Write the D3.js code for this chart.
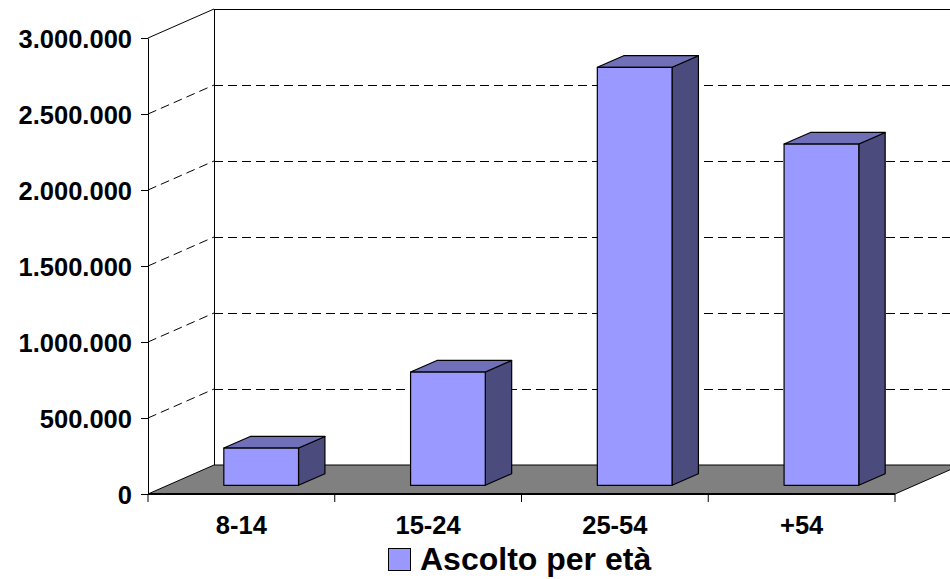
<!DOCTYPE html>
<html>
<head>
<meta charset="utf-8">
<script src="https://cdn.jsdelivr.net/npm/d3@7"></script>
<style>
  body { margin: 0; background: #fff; }
  text { font-family: "Liberation Sans", Arial, sans-serif; font-weight: bold; fill: #000; }
</style>
</head>
<body>
<div id="chart"></div>
<script>
// data
var categories = ["8-14", "15-24", "25-54", "+54"];
var values = [245000, 745000, 2750000, 2245000];
var yTicks = [0, 500000, 1000000, 1500000, 2000000, 2500000, 3000000];
var seriesName = "Ascolto per età";

var width = 950, height = 579;
// front plane of the plot and the depth offset of the 3d box
var plotLeft = 148, plotRight = 895, plotBottom = 494, plotTop = 38;
var depthX = 66, depthY = -29;

var svg = d3.select("#chart")
  .append("svg")
  .attr("width", width)
  .attr("height", height);

var x = d3.scaleBand()
  .domain(categories)
  .range([plotLeft, plotRight])
  .paddingInner(0.6)
  .paddingOuter(0.3);

var y = d3.scaleLinear()
  .domain([0, 3000000])
  .range([plotBottom, plotTop]);

var itFormat = d3.formatLocale({ decimal: ",", thousands: ".", grouping: [3], currency: ["€", ""] }).format(",d");

// point in the box, f = depth fraction (0 front, 1 back)
function pt(px, py, f) {
  return [px + depthX * f, py + depthY * f];
}
function poly(points) {
  return points.map(function(p) { return p.join(","); }).join(" ");
}

// back wall grid lines (half pixel so they stay sharp)
svg.selectAll(".grid")
  .data(yTicks)
  .enter()
  .append("line")
  .attr("x1", plotLeft + depthX)
  .attr("x2", width)
  .attr("y1", function(d) { return Math.round(y(d) + depthY) + 0.5; })
  .attr("y2", function(d) { return Math.round(y(d) + depthY) + 0.5; })
  .attr("stroke", "#000")
  .attr("stroke-width", 1)
  .attr("stroke-dasharray", function(d) { return d == 3000000 ? null : "9,5"; });

// side wall lines
svg.selectAll(".wall")
  .data(yTicks.filter(function(d) { return d > 0; }))
  .enter()
  .append("line")
  .attr("x1", plotLeft)
  .attr("y1", function(d) { return y(d); })
  .attr("x2", plotLeft + depthX)
  .attr("y2", function(d) { return y(d) + depthY; })
  .attr("stroke", "#000")
  .attr("stroke-width", 1)
  .attr("stroke-dasharray", function(d) { return d == 3000000 ? null : "9,5"; });

// back wall left edge
svg.append("line")
  .attr("x1", plotLeft + depthX + 0.5).attr("x2", plotLeft + depthX + 0.5)
  .attr("y1", y(3000000) + depthY).attr("y2", y(0) + depthY)
  .attr("stroke", "#000");

// floor
svg.append("polygon")
  .attr("points", poly([pt(plotLeft, y(0), 0), pt(plotRight, y(0), 0), pt(plotRight, y(0), 1), pt(plotLeft, y(0), 1)]))
  .attr("fill", "#808080")
  .attr("stroke", "#000")
  .attr("stroke-width", 1);

// bars
var bw = x.bandwidth();
var f0 = 0.3, f1 = 0.7;
var bars = svg.selectAll(".bar")
  .data(categories.map(function(c, i) { return { key: c, value: values[i] }; }))
  .enter()
  .append("g");

bars.append("polygon") // right side
  .attr("points", function(d) {
    var x1 = x(d.key) + bw;
    return poly([pt(x1, y(0), f0), pt(x1, y(d.value), f0), pt(x1, y(d.value), f1), pt(x1, y(0), f1)]);
  })
  .attr("fill", "#4b4b7e")
  .attr("stroke", "#000")
  .attr("stroke-width", 1.2)
  .attr("stroke-linejoin", "round");

bars.append("polygon") // top
  .attr("points", function(d) {
    var x0 = x(d.key), x1 = x0 + bw, t = y(d.value);
    return poly([pt(x0, t, f0), pt(x1, t, f0), pt(x1, t, f1), pt(x0, t, f1)]);
  })
  .attr("fill", "#7070b8")
  .attr("stroke", "#000")
  .attr("stroke-width", 1.2)
  .attr("stroke-linejoin", "round");

bars.append("polygon") // front
  .attr("points", function(d) {
    var x0 = x(d.key), x1 = x0 + bw;
    return poly([pt(x0, y(0), f0), pt(x1, y(0), f0), pt(x1, y(d.value), f0), pt(x0, y(d.value), f0)]);
  })
  .attr("fill", "#9999ff")
  .attr("stroke", "#000")
  .attr("stroke-width", 1.2)
  .attr("stroke-linejoin", "round");

// y axis
var yAxis = svg.append("g")
  .attr("transform", "translate(" + plotLeft + ",0)")
  .call(d3.axisLeft(y).tickValues(yTicks).tickFormat(itFormat).tickSizeInner(7).tickSizeOuter(0).tickPadding(9));
yAxis.selectAll("text").style("font-size", "25.5px").attr("dy", "0.36em");

// x axis (ticks between categories)
var xEdges = d3.scaleLinear().domain([0, categories.length]).range([plotLeft, plotRight]);
svg.append("line")
  .attr("x1", plotLeft).attr("x2", plotRight)
  .attr("y1", plotBottom).attr("y2", plotBottom)
  .attr("stroke", "#000").attr("stroke-width", 2);
svg.selectAll(".xtick")
  .data(d3.range(categories.length + 1))
  .enter()
  .append("line")
  .attr("x1", function(d) { return xEdges(d); })
  .attr("x2", function(d) { return xEdges(d); })
  .attr("y1", plotBottom)
  .attr("y2", plotBottom + 8)
  .attr("stroke", "#000");
svg.selectAll(".xlabel")
  .data(categories)
  .enter()
  .append("text")
  .attr("x", function(d, i) { return (xEdges(i) + xEdges(i + 1)) / 2; })
  .attr("y", 534)
  .attr("text-anchor", "middle")
  .style("font-size", "25.5px")
  .text(function(d) { return d; });

// legend
svg.append("rect")
  .attr("x", 388.5).attr("y", 548.5)
  .attr("width", 22).attr("height", 22)
  .attr("fill", "#9999ff")
  .attr("stroke", "#000");
svg.append("text")
  .attr("x", 420)
  .attr("y", 570)
  .style("font-size", "32px")
  .text(seriesName);
</script>
</body>
</html>
